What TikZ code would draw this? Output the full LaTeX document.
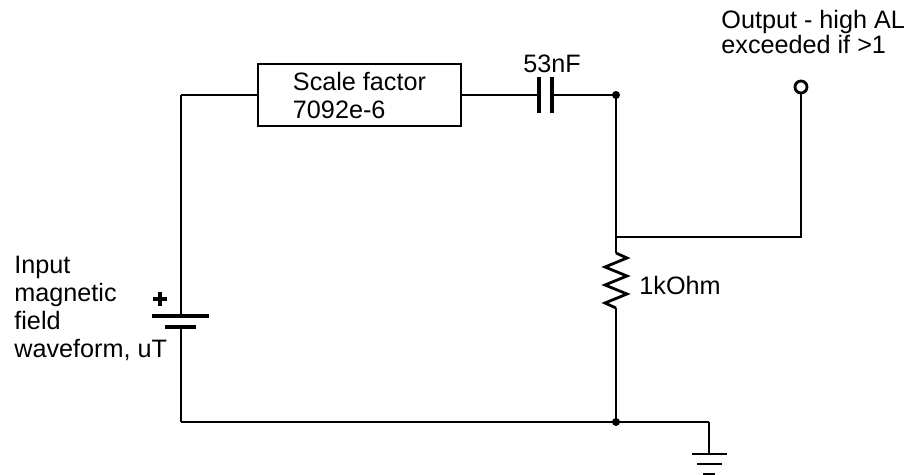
\documentclass[tikz,border=0pt]{standalone}
\usepackage{fontspec}
\setmainfont{Liberation Sans}
\usepackage{tikz}

\begin{document}
\begin{tikzpicture}[x=0.5pt, y=-0.5pt, line width=1.4pt,
        label text/.style={font=\fontsize{12.6}{14}\selectfont, inner sep=0pt, align=left},
        junction/.style={circle, fill, inner sep=0pt, minimum size=4pt}]
                \useasboundingbox (0,0) rectangle (907,475);

                % Corners of the circuit
                \coordinate (TL) at (181,95);
                \coordinate (TR) at (616,95);
                \coordinate (BL) at (181,422);
                \coordinate (BR) at (616,422);
                \coordinate (TAP) at (616,237);
                \coordinate (OUTC) at (801,237);
                \coordinate (GND) at (709,422);

                % Scale factor block
                \node[draw, line width=0.8pt, minimum width=101.5pt, minimum height=31pt,
                      label text] (scale) at (359.5,95) {Scale factor\\7092e-6};

                % Capacitor (53nF) - two plates
                \coordinate (C1) at (539,95);
                \coordinate (C2) at (552,95);
                \draw[line width=1.7pt] (539,77) -- (539,113);
                \draw[line width=1.7pt] (552,77) -- (552,113);
                \node[label text, anchor=base] (capval) at (552,73) {53nF};

                % Battery (input source)
                \coordinate (B1) at (181,316);
                \coordinate (B2) at (181,327);
                \draw[line width=1.7pt] (152,316) -- (209,316);
                \draw[line width=1.7pt] (165,327) -- (196,327);
                \draw[line width=1.7pt] (153,299) -- (167,299);
                \draw[line width=1.7pt] (160,292) -- (160,306);

                % Resistor (1kOhm) - zigzag
                \coordinate (R1) at (616,253);
                \coordinate (R2) at (616,308);
                \draw (R1) -- (627,258) -- (605,267) -- (627,276) -- (605,285)
                      -- (627,294) -- (605,303) -- (R2);
                \node[label text, anchor=base west] (resval) at (638,295) {1kOhm};

                % Wires
                \draw (TL) -- (scale.west);
                \draw (scale.east) -- (C1);
                \draw (C2) -- (TR);
                \draw (TL) -- (B1);
                \draw (B2) -- (BL);
                \draw (TR) -- (R1);
                \draw (R2) -- (BR);
                \draw (BL) -- (GND);

                % Output terminal
                \node[circle, draw, inner sep=0pt, minimum size=6pt] (out) at (801,87) {};
                \draw (TAP) -- (OUTC) -- (out.south);

                % Ground
                \draw (GND) -- (709,454);
                \draw (692,454) -- (727,454);
                \draw (697,464) -- (722,464);
                \draw (703,474) -- (715,474);

                % Junction dots
                \node[junction] (j1) at (TR) {};
                \node[junction] (j2) at (BR) {};

                % Labels
                \node[label text, anchor=north west] (inlabel) at (13,255)
                      {Input\\magnetic\\field\\waveform, uT};
                \node[label text, anchor=north west, font=\fontsize{12.6}{12.2}\selectfont] (outlabel) at (720,9)
                      {Output - high AL\\exceeded if >1};
            \end{tikzpicture}
\end{document}
